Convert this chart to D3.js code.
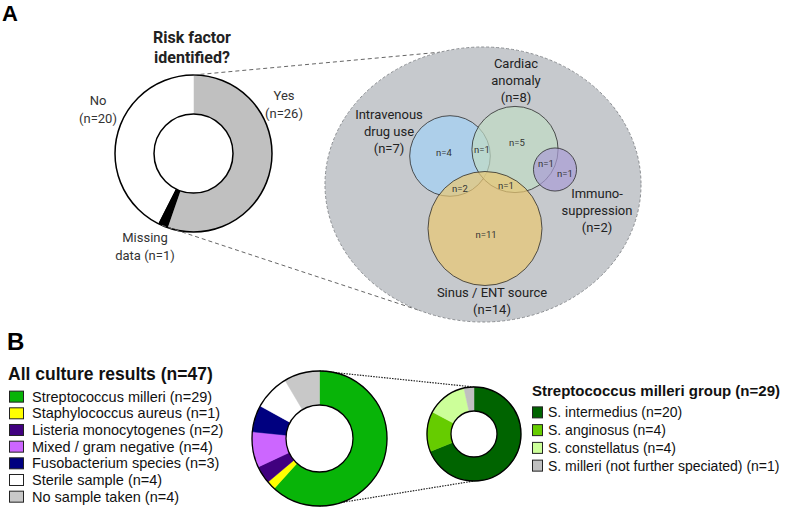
<!DOCTYPE html>
<html><head><meta charset="utf-8">
<script src="https://cdn.jsdelivr.net/npm/d3@7"></script>
<style>body{margin:0;background:#fff}svg{display:block}</style>
</head><body>
<svg id="c" width="785" height="509"></svg>
<script>
// ---------------- DATA ----------------
const riskCategories = ["Yes", "Missing data", "No"];
const riskValues = [26, 1, 20];
const riskLabelLines = [["Yes", "(n=26)"], ["Missing", "data (n=1)"], ["No", "(n=20)"]];

const vennSets = ["Intravenous drug use", "Cardiac anomaly", "Immuno-suppression", "Sinus / ENT source"];
const vennSizes = [7, 8, 2, 14];
const vennSetLabelLines = [["Intravenous", "drug use", "(n=7)"], ["Cardiac", "anomaly", "(n=8)"], ["Immuno-", "suppression", "(n=2)"], ["Sinus / ENT source", "(n=14)"]];
const vennRegions = ["IV only", "IV+Cardiac", "Cardiac only", "Cardiac+Immuno", "Immuno only", "IV+Sinus", "Cardiac+Sinus", "Sinus only"];
const vennRegionValues = [4, 1, 5, 1, 1, 2, 1, 11];

const cultureCategories = ["Streptococcus milleri", "Staphylococcus aureus", "Listeria monocytogenes", "Mixed / gram negative", "Fusobacterium species", "Sterile sample", "No sample taken"];
const cultureValues = [29, 1, 2, 4, 3, 4, 4];

const milleriCategories = ["S. intermedius", "S. anginosus", "S. constellatus", "S. milleri (not further speciated)"];
const milleriValues = [20, 4, 4, 1];

// ---------------- STYLES / LAYOUT ----------------
const riskColors = ["#c0c0c0", "#000000", "#ffffff"];
const vennColors = ["#a3d2f6", "#c1dcc4", "#aa9dd6", "#eac872"];
const cultureColors = ["#08b408", "#ffff00", "#40007f", "#cc66ff", "#000080", "#ffffff", "#c8c8c8"];
const milleriColors = ["#006400", "#66cc00", "#ccff99", "#c0c0c0"];

const svg = d3.select("#c");
const fontA = "Roboto, 'Noto Sans', sans-serif";
const fontB = "'Liberation Sans', Arial, sans-serif";

// panel letters
svg.append("text").attr("x", 2).attr("y", 21).attr("font-family", fontB).attr("font-weight", "bold").attr("font-size", 22).text("A");
svg.append("text").attr("x", 7).attr("y", 350).attr("font-family", fontB).attr("font-weight", "bold").attr("font-size", 24).text("B");

// ---------------- PANEL A: donut ----------------
const pA = {cx: 193.5, cy: 153.5, r0: 39.5, r1: 78.5};
const ell = {cx: 483, cy: 184.5, rx: 158, ry: 137.5};

function ellipseY(x, top) {
  const dx = (x - ell.cx) / ell.rx;
  const dy = ell.ry * Math.sqrt(Math.max(0, 1 - dx * dx));
  return top ? ell.cy - dy : ell.cy + dy;
}
const pieA = d3.pie().sort(null).value(d => d)(riskValues);
const gA = svg.append("g").attr("transform", `translate(${pA.cx},${pA.cy})`);
const arcA = d3.arc().innerRadius(pA.r0).outerRadius(pA.r1);
const yesStart = pieA[0].startAngle, yesEnd = pieA[0].endAngle + (pieA[1].endAngle - pieA[1].startAngle) * 0.6;
const p1 = [pA.cx + pA.r1 * Math.sin(yesStart), pA.cy - pA.r1 * Math.cos(yesStart)];
const p2 = [pA.cx + pA.r1 * Math.sin(yesEnd), pA.cy - pA.r1 * Math.cos(yesEnd)];
svg.append("line").attr("x1", p1[0]).attr("y1", p1[1]).attr("x2", 440).attr("y2", ellipseY(440, true))
  .attr("stroke", "#666").attr("stroke-width", 1).attr("stroke-dasharray", "4,3");
svg.append("line").attr("x1", p2[0]).attr("y1", p2[1]).attr("x2", 420).attr("y2", ellipseY(420, false))
  .attr("stroke", "#666").attr("stroke-width", 1).attr("stroke-dasharray", "4,3");

gA.selectAll("path.s").data(pieA).join("path").attr("class", "s")
  .attr("d", arcA).attr("fill", (d, i) => riskColors[i]);
gA.append("circle").attr("r", pA.r1).attr("fill", "none").attr("stroke", "#000").attr("stroke-width", 1.5);
gA.append("circle").attr("r", pA.r0).attr("fill", "#fff").attr("stroke", "#000").attr("stroke-width", 1.5);

svg.append("text").attr("x", 192).attr("y", 43).attr("text-anchor", "middle")
  .attr("font-family", fontA).attr("font-weight", "bold").attr("font-size", 16).attr("fill", "#222")
  .selectAll("tspan").data(["Risk factor", "identified?"]).join("tspan")
  .attr("x", 192).attr("dy", (d, i) => i ? 20 : 0).text(d => d);

const riskLabelPos = [[284, 100], [145, 242], [98, 105]];
riskLabelLines.forEach((lines, i) => {
  svg.append("text").attr("text-anchor", "middle").attr("font-family", fontA).attr("font-size", 13).attr("fill", "#333")
    .attr("y", riskLabelPos[i][1])
    .selectAll("tspan").data(lines).join("tspan")
    .attr("x", riskLabelPos[i][0]).attr("dy", (d, j) => j ? 17.5 : 0).text(d => d);
});

// ---------------- PANEL A: Venn ----------------
svg.append("ellipse").attr("cx", ell.cx).attr("cy", ell.cy).attr("rx", ell.rx).attr("ry", ell.ry)
  .attr("fill", "#c6c9cd").attr("stroke", "#8a8d91").attr("stroke-width", 1).attr("stroke-dasharray", "3,2");

const rScale = d3.scaleSqrt().domain([0, 14]).range([0, 57]);
const vennCenters = [[-33, -28.5], [32, -35], [72, -15], [2, 44]];
const gV = svg.append("g").attr("transform", `translate(${ell.cx},${ell.cy})`);
gV.selectAll("circle.v").data(vennSizes).join("circle").attr("class", "v")
  .attr("cx", (d, i) => vennCenters[i][0]).attr("cy", (d, i) => vennCenters[i][1])
  .attr("r", d => rScale(d))
  .attr("fill", (d, i) => vennColors[i]).attr("fill-opacity", 0.7)
  .attr("stroke", "#222").attr("stroke-opacity", 0.75).attr("stroke-width", 1);

const vennSetLabelPos = [[-94, -66], [33, -117], [114, 13], [9, 112]];
vennSetLabelLines.forEach((lines, i) => {
  gV.append("text").attr("text-anchor", "middle").attr("font-family", fontA).attr("font-size", 13).attr("fill", "#222")
    .attr("y", vennSetLabelPos[i][1])
    .selectAll("tspan").data(lines).join("tspan")
    .attr("x", vennSetLabelPos[i][0]).attr("dy", (d, j) => j ? 17 : 0).text(d => d);
});
const vennRegionPos = [[-39, -32], [-1, -35], [34, -42], [63, -21], [82, -11], [-23, 4], [23, 1], [3, 50]];
gV.selectAll("text.r").data(vennRegionValues).join("text").attr("class", "r")
  .attr("x", (d, i) => vennRegionPos[i][0]).attr("y", (d, i) => vennRegionPos[i][1])
  .attr("text-anchor", "middle").attr("dominant-baseline", "central")
  .attr("font-family", fontA).attr("font-size", 9.5).attr("fill", "#333")
  .text(d => "n=" + d);

// ---------------- PANEL B ----------------
const b1 = {cx: 319.5, cy: 438.5, r0: 33.5, r1: 67.5};
const b2 = {cx: 474, cy: 434, r0: 23, r1: 47};

svg.append("line").attr("x1", b1.cx).attr("y1", b1.cy - b1.r1).attr("x2", b2.cx).attr("y2", b2.cy - b2.r1)
  .attr("stroke", "#222").attr("stroke-width", 1.2).attr("stroke-dasharray", "1.5,1.2");
svg.append("line").attr("x1", b1.cx).attr("y1", b1.cy + b1.r1).attr("x2", b2.cx).attr("y2", b2.cy + b2.r1)
  .attr("stroke", "#222").attr("stroke-width", 1.2).attr("stroke-dasharray", "1.5,1.2");

function donut(c, values, colors) {
  const g = svg.append("g").attr("transform", `translate(${c.cx},${c.cy})`);
  const arcs = d3.pie().sort(null).value(d => d)(values);
  const arc = d3.arc().innerRadius(c.r0).outerRadius(c.r1);
  g.selectAll("path").data(arcs).join("path").attr("d", arc).attr("fill", (d, i) => colors[i])
    .attr("stroke", (d, i) => colors[i]).attr("stroke-width", 0.5);
  g.append("circle").attr("r", c.r1).attr("fill", "none").attr("stroke", "#000").attr("stroke-width", 1.3);
  g.append("circle").attr("r", c.r0).attr("fill", "#fff").attr("stroke", "#000").attr("stroke-width", 1.3);
}
donut(b1, cultureValues, cultureColors);
donut(b2, milleriValues, milleriColors);

svg.append("text").attr("x", 8).attr("y", 380).attr("font-family", fontB).attr("font-weight", "bold")
  .attr("font-size", 17.5).attr("fill", "#111").text("All culture results (n=" + d3.sum(cultureValues) + ")");
const row1 = d3.scaleBand().domain(cultureCategories).range([388.3, 505]).paddingInner(0);
cultureCategories.forEach((c, i) => {
  const y = row1(c) + row1.bandwidth() / 2;
  svg.append("rect").attr("x", 9.5).attr("y", y - 5.5).attr("width", 14).attr("height", 11)
    .attr("fill", cultureColors[i]).attr("stroke", "#222").attr("stroke-width", 1);
  svg.append("text").attr("x", 32).attr("y", y).attr("dominant-baseline", "central")
    .attr("font-family", fontB).attr("font-size", 14.5).attr("fill", "#111")
    .text(c + " (n=" + cultureValues[i] + ")");
});

svg.append("text").attr("x", 532).attr("y", 396).attr("font-family", fontB).attr("font-weight", "bold")
  .attr("font-size", 15).attr("fill", "#111").text("Streptococcus milleri group (n=" + d3.sum(milleriValues) + ")");
const row2 = d3.scaleBand().domain(milleriCategories).range([403.5, 474.5]);
milleriCategories.forEach((c, i) => {
  const y = row2(c) + row2.bandwidth() / 2;
  svg.append("rect").attr("x", 532.5).attr("y", y - 5.5).attr("width", 10).attr("height", 11)
    .attr("fill", milleriColors[i]).attr("stroke", "#222").attr("stroke-width", 1);
  svg.append("text").attr("x", 548).attr("y", y).attr("dominant-baseline", "central")
    .attr("font-family", fontB).attr("font-size", 14).attr("fill", "#111")
    .text(c + " (n=" + milleriValues[i] + ")");
});
</script>
</body></html>
